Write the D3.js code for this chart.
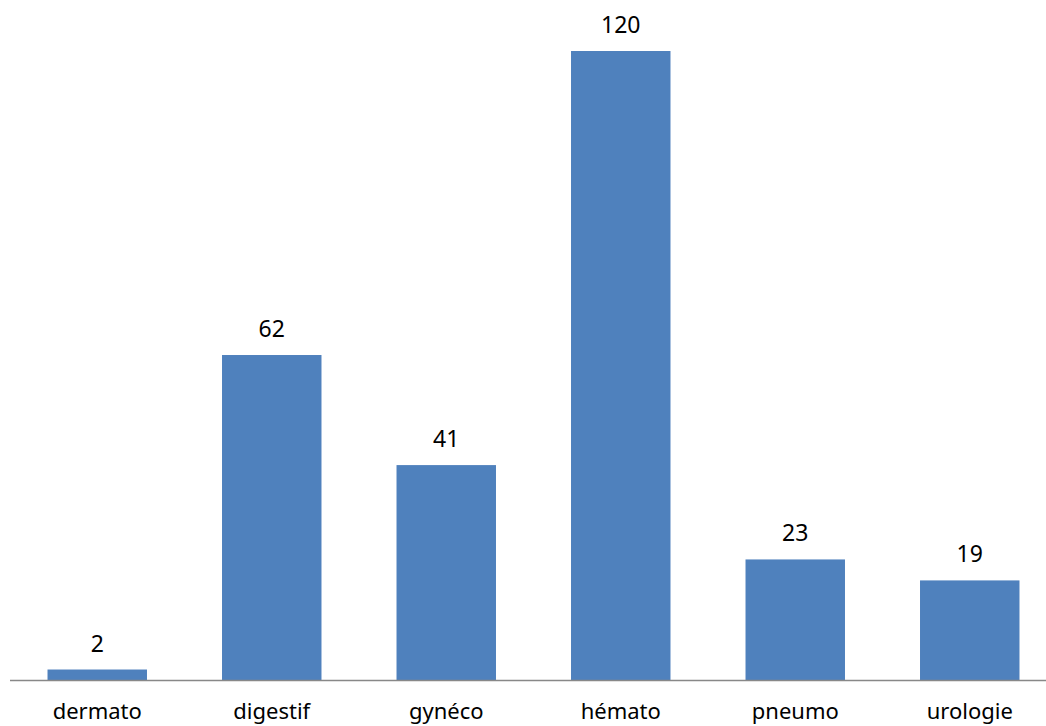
<!DOCTYPE html>
<html>
<head>
<meta charset="utf-8">
<script src="https://cdn.jsdelivr.net/npm/d3@7"></script>
<style>
  body { margin: 0; background: #fff; }
  svg text { font-family: "Noto Sans", "Open Sans", sans-serif; fill: #000; }
</style>
</head>
<body>
<div class="vis-barchart"></div>
<script>
const categories = ['dermato', 'digestif', 'gynéco', 'hémato', 'pneumo', 'urologie'];
const values = [2, 62, 41, 120, 23, 19];

const draw = () => {
    const width = 1046, height = 726;
    const margin = {top: 51, right: -11, bottom: 46, left: 10};
    const innerW = width - margin.left - margin.right;
    const innerH = height - margin.top - margin.bottom;

    const data = categories.map((c, i) => ({name: c, value: values[i]}));

    let svg = d3.select('.vis-barchart').append('svg')
        .attr('width', width)
        .attr('height', height)
        .append('g')
        .attr('transform', 'translate(' + margin.left + ',' + margin.top + ')');

    let x = d3.scaleBand()
        .domain(categories)
        .range([0, innerW])
        .paddingInner(0.43)
        .paddingOuter(0.215);
    let y = d3.scaleLinear()
        .domain([0, 120])
        .range([innerH, 0]);

    // bars
    svg.selectAll('.bar')
        .data(data)
        .enter().append('rect')
        .attr('class', 'bar')
        .attr('fill', '#4f81bd')
        .attr('x', d => x(d.name))
        .attr('width', x.bandwidth())
        .attr('y', d => y(d.value))
        .attr('height', d => innerH - y(d.value));

    // value labels
    svg.selectAll('.lbl')
        .data(data)
        .enter().append('text')
        .attr('class', 'lbl')
        .attr('x', d => x(d.name) + x.bandwidth() / 2)
        .attr('y', d => y(d.value) - 18)
        .attr('text-anchor', 'middle')
        .style('font-size', '23px')
        .text(d => d.value);

    // x axis
    const axis = svg.append('g')
        .attr('transform', 'translate(0,' + innerH + ')')
        .call(d3.axisBottom(x).tickSize(0));
    axis.select('.domain').attr('stroke', '#888').attr('stroke-width', 1.5)
        .attr('d', 'M0,0.5H' + (width - margin.left));
    axis.selectAll('text')
        .attr('y', 39)
        .attr('dy', 0)
        .style('font-size', '22px')
        .style('font-family', '"Noto Sans", "Open Sans", sans-serif')
        .attr('fill', '#000');
}

draw();
</script>
</body>
</html>
